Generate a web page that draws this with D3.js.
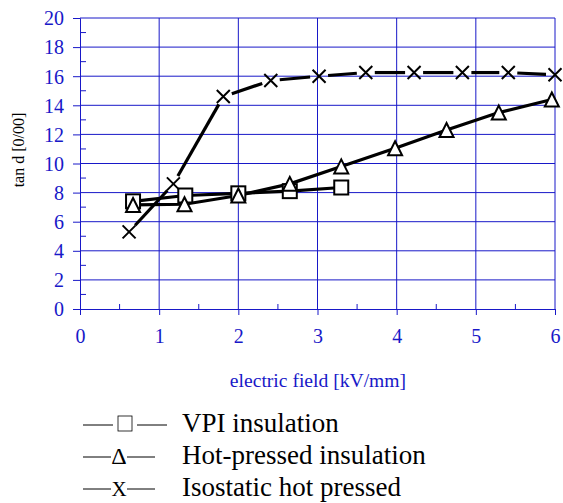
<!DOCTYPE html>
<html>
<head>
<meta charset="utf-8">
<script src="https://cdn.jsdelivr.net/npm/d3@7"></script>
<style>
  body { margin: 0; background: #fff; }
  svg { display: block; font-family: "Liberation Serif", "Times New Roman", serif; }
</style>
</head>
<body>
<svg id="chart" width="563" height="503"></svg>
<script>
// values
var xTicks = [0, 1, 2, 3, 4, 5, 6];
var yTicks = [0, 2, 4, 6, 8, 10, 12, 14, 16, 18, 20];

var vpiField = [0.67, 1.33, 2.0, 2.65, 3.3];
var vpiTan = [7.4, 7.8, 7.95, 8.1, 8.35];

var hotField = [0.67, 1.32, 2.0, 2.65, 3.3, 3.98, 4.63, 5.29, 5.96];
var hotTan = [7.15, 7.2, 7.8, 8.6, 9.8, 11.05, 12.3, 13.5, 14.4];

var isoField = [0.62, 1.18, 1.81, 2.41, 3.02, 3.61, 4.22, 4.83, 5.41, 6.0];
var isoTan = [5.3, 8.6, 14.6, 15.7, 16.0, 16.25, 16.25, 16.25, 16.25, 16.1];

var legendLabels = ['VPI insulation', 'Hot-pressed insulation', 'Isostatic hot pressed'];

var blue = '#1818c8';
var serif = '"Liberation Serif", "Times New Roman", serif';
var svg = d3.select('#chart');

var x = d3.scaleLinear().domain([0, 6]).range([80, 555]);
var y = d3.scaleLinear().domain([0, 20]).range([309, 18]);

function pts(xs, ys) {
    return xs.map(function (v, i) { return { x: v, y: ys[i] }; });
}

// grid
var grid = svg.append('g').attr('stroke', blue).attr('stroke-width', 1);
grid.selectAll('.hg').data(yTicks.slice(1)).enter().append('line')
    .attr('x1', x(0)).attr('x2', x(6))
    .attr('y1', function (d) { return y(d); }).attr('y2', function (d) { return y(d); });
grid.selectAll('.vg').data(xTicks.slice(1)).enter().append('line')
    .attr('y1', y(0)).attr('y2', y(20))
    .attr('x1', function (d) { return x(d); }).attr('x2', function (d) { return x(d); });

// axes
var yAxis = d3.axisLeft(y).tickValues(yTicks).tickFormat(d3.format('d')).tickSize(7).tickPadding(9);
var gy = svg.append('g').attr('transform', 'translate(' + x(0) + ',0)').call(yAxis);
var xAxis = d3.axisBottom(x).tickValues(xTicks).tickFormat(d3.format('d')).tickSize(6).tickPadding(14);
var gx = svg.append('g').attr('transform', 'translate(0,' + y(0) + ')').call(xAxis);
[gx, gy].forEach(function (g) {
    g.attr('font-family', serif).attr('font-size', 20);
    g.select('.domain').attr('stroke', blue);
    g.selectAll('.tick line').attr('stroke', blue);
    g.selectAll('.tick text').attr('fill', blue);
});
gy.selectAll('.tick text').attr('dy', '0.34em');

// minor ticks
svg.append('g').selectAll('line').data(d3.range(1, 20, 2)).enter().append('line')
    .attr('x1', x(0)).attr('x2', x(0) + 6)
    .attr('y1', function (d) { return y(d); }).attr('y2', function (d) { return y(d); })
    .attr('stroke', blue);
svg.append('g').selectAll('line').data(d3.range(0.5, 6, 1)).enter().append('line')
    .attr('y1', y(0)).attr('y2', y(0) - 5)
    .attr('x1', function (d) { return x(d); }).attr('x2', function (d) { return x(d); })
    .attr('stroke', blue);

// axis titles
svg.append('text')
    .attr('transform', 'translate(24,150) rotate(-90)')
    .attr('text-anchor', 'middle')
    .style('font-size', '16px')
    .text('tan d [0/00]');
svg.append('text')
    .attr('x', 318).attr('y', 387)
    .attr('text-anchor', 'middle')
    .attr('fill', blue)
    .style('font-size', '19.6px')
    .text('electric field [kV/mm]');

var line = d3.line().x(function (d) { return x(d.x); }).y(function (d) { return y(d.y); });

// isostatic: segments stop short of the crosses
var iso = pts(isoField, isoTan);
var gap = 9;
var segs = d3.pairs(iso).map(function (p) {
    var x1 = x(p[0].x), y1 = y(p[0].y), x2 = x(p[1].x), y2 = y(p[1].y);
    var len = Math.hypot(x2 - x1, y2 - y1);
    var ux = (x2 - x1) / len, uy = (y2 - y1) / len;
    return [x1 + ux * gap, y1 + uy * gap, x2 - ux * gap, y2 - uy * gap];
});
svg.append('g').selectAll('line').data(segs).enter().append('line')
    .attr('x1', function (d) { return d[0]; }).attr('y1', function (d) { return d[1]; })
    .attr('x2', function (d) { return d[2]; }).attr('y2', function (d) { return d[3]; })
    .attr('stroke', '#000').attr('stroke-width', 3.2);

var hot = pts(hotField, hotTan);
var vpi = pts(vpiField, vpiTan);
svg.append('path').datum(hot).attr('d', line)
    .attr('fill', 'none').attr('stroke', '#000').attr('stroke-width', 3.2);
svg.append('path').datum(vpi).attr('d', line)
    .attr('fill', 'none').attr('stroke', '#000').attr('stroke-width', 3.2);

// markers
var cross = svg.append('g').selectAll('g').data(iso).enter().append('g')
    .attr('transform', function (d) { return 'translate(' + x(d.x) + ',' + y(d.y) + ')'; });
cross.append('path').attr('d', 'M-6.5,-6.5L6.5,6.5M-6.5,6.5L6.5,-6.5')
    .attr('stroke', '#000').attr('stroke-width', 2);

svg.append('g').selectAll('rect').data(vpi).enter().append('rect')
    .attr('x', function (d) { return x(d.x) - 7; })
    .attr('y', function (d) { return y(d.y) - 7; })
    .attr('width', 14).attr('height', 14)
    .attr('fill', '#fff').attr('stroke', '#000').attr('stroke-width', 2);

svg.append('g').selectAll('path').data(hot).enter().append('path')
    .attr('transform', function (d) { return 'translate(' + x(d.x) + ',' + y(d.y) + ')'; })
    .attr('d', 'M0,-7L7,7L-7,7Z')
    .attr('fill', '#fff').attr('stroke', '#000').attr('stroke-width', 2)
    .attr('stroke-linejoin', 'miter');

// legend (pulled up a little so the last row is not clipped)
var leg = svg.append('g');
var rows = leg.selectAll('g').data(legendLabels).enter().append('g')
    .attr('transform', function (d, i) { return 'translate(0,' + [425, 457, 489][i] + ')'; });
rows.append('text')
    .attr('x', 182).attr('y', 7)
    .style('font-size', '27px')
    .text(function (d) { return d; });

var r0 = rows.filter(function (d, i) { return i === 0; });
r0.append('line').attr('x1', 83).attr('x2', 113).attr('stroke', '#000');
r0.append('line').attr('x1', 137).attr('x2', 167).attr('stroke', '#000');
r0.append('rect').attr('x', 118).attr('y', -9).attr('width', 14).attr('height', 15)
    .attr('fill', 'none').attr('stroke', '#000').attr('stroke-width', 0.8);

[1, 2].forEach(function (k) {
    var r = rows.filter(function (d, i) { return i === k; });
    r.append('line').attr('x1', 83).attr('x2', 155).attr('stroke', '#000');
    r.append('rect').attr('x', 111).attr('y', -10).attr('width', 16).attr('height', 19).attr('fill', '#fff');
    r.append('text').attr('x', 119).attr('y', 7).attr('text-anchor', 'middle')
        .style('font-size', k === 1 ? '24px' : '21px')
        .text(k === 1 ? 'Δ' : 'X');
});
</script>
</body>
</html>
